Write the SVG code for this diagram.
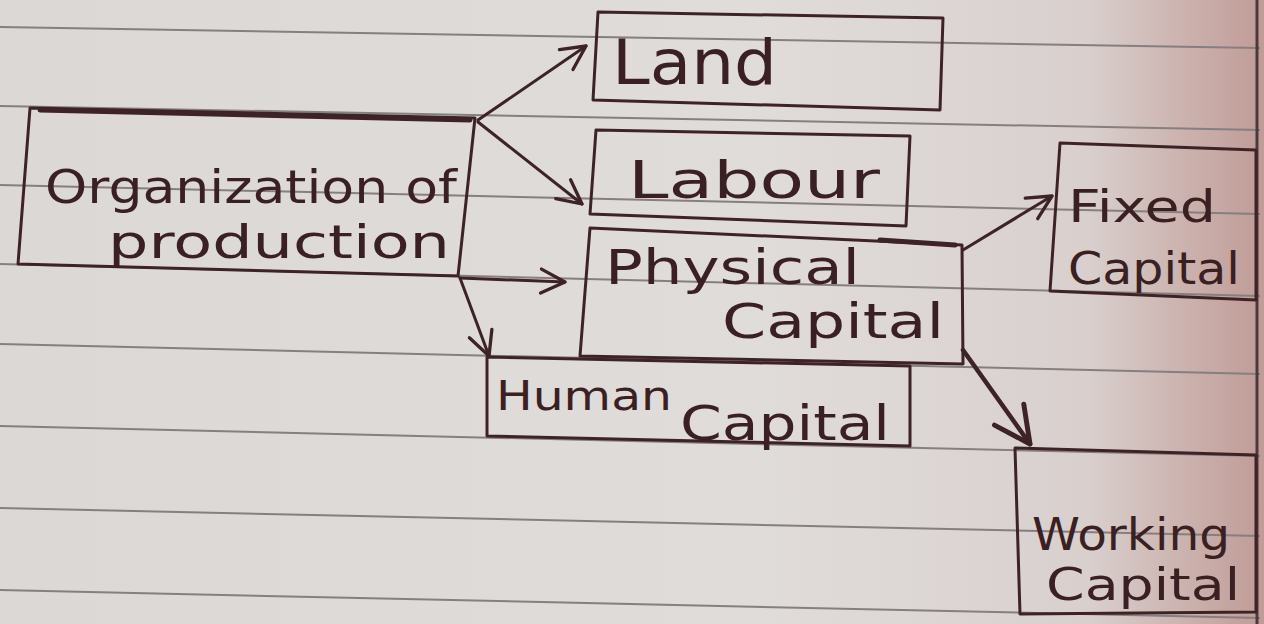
<svg xmlns="http://www.w3.org/2000/svg" width="1264" height="624" viewBox="0 0 1264 624">
<defs>
<linearGradient id="paper" x1="0" y1="0" x2="1" y2="0">
<stop offset="0" stop-color="#dcd8d6"/>
<stop offset="0.6" stop-color="#e0dcda"/>
<stop offset="0.86" stop-color="#d9d0ce"/>
<stop offset="0.94" stop-color="#cbb1ad"/>
<stop offset="1" stop-color="#c09b97"/>
</linearGradient>
<marker id="arr" viewBox="0 0 20 20" refX="18" refY="10" markerWidth="10" markerHeight="10" markerUnits="strokeWidth" orient="auto">
<path d="M2,2 L18,10 L2,18" fill="none" stroke="#3e2326" stroke-width="2.2" stroke-linecap="round" stroke-linejoin="round"/>
</marker>
<style>
.ink{fill:none;stroke:#3e2326;stroke-width:3;stroke-linejoin:round;stroke-linecap:round}
.thick{stroke-width:5}
.rule{fill:none;stroke:#867e7f;stroke-width:2}
.t{font-family:"DejaVu Sans","Liberation Sans",sans-serif;fill:#3a1f23}
.conn{fill:none;stroke:#3e2326;stroke-width:3;stroke-linecap:round;marker-end:url(#arr)}
</style>
</defs>
<rect width="1264" height="624" fill="url(#paper)"/>
<g id="rules">
<line class="rule" x1="0" y1="27" x2="1260" y2="48"/>
<line class="rule" x1="0" y1="106" x2="1260" y2="130"/>
<line class="rule" x1="0" y1="185" x2="1260" y2="214"/>
<line class="rule" x1="0" y1="264" x2="1260" y2="296"/>
<line class="rule" x1="0" y1="344" x2="1260" y2="374"/>
<line class="rule" x1="0" y1="426" x2="1260" y2="456"/>
<line class="rule" x1="0" y1="508" x2="1260" y2="536"/>
<line class="rule" x1="0" y1="590" x2="1260" y2="618"/>
<line x1="1257" y1="0" x2="1257" y2="624" stroke="#4a3a3b" stroke-width="3"/>
</g>
<g id="connectors">
<path class="conn" d="M478,120 L586,46"/>
<path class="conn" d="M478,122 L582,204"/>
<path class="conn" d="M460,278 L565,282"/>
<path class="conn" d="M460,278 L489,356"/>
<path class="conn" d="M963,250 L1052,196"/>
<path class="conn" style="stroke-width:4.5" d="M963,350 L1030,444"/>
</g>
<g id="org">
<path class="ink" d="M30,108 L475,118 L458,276 L18,264 Z"/>
<path class="ink thick" d="M40,110 L470,120"/>
<text class="t" x="45" y="203" font-size="46" textLength="412" lengthAdjust="spacingAndGlyphs">Organization of</text>
<text class="t" x="108" y="258" font-size="46" textLength="342" lengthAdjust="spacingAndGlyphs">production</text>
</g>
<g id="land">
<path class="ink" d="M598,12 L943,18 L940,110 L593,100 Z"/>
<text class="t" x="612" y="84" font-size="62" textLength="165" lengthAdjust="spacingAndGlyphs">Land</text>
</g>
<g id="labour">
<path class="ink" d="M596,130 L910,136 L906,226 L590,214 Z"/>
<text class="t" x="628" y="198" font-size="52" textLength="252" lengthAdjust="spacingAndGlyphs">Labour</text>
</g>
<g id="physical">
<path class="ink" d="M590,228 L962,245 L963,364 L580,356 Z"/>
<path class="ink thick" d="M880,240 L955,245"/>
<text class="t" x="605" y="284" font-size="48" textLength="255" lengthAdjust="spacingAndGlyphs">Physical</text>
<text class="t" x="722" y="338" font-size="48" textLength="222" lengthAdjust="spacingAndGlyphs">Capital</text>
</g>
<g id="human">
<path class="ink" d="M487,357 L910,366 L910,446 L487,436 Z"/>
<text class="t" x="496" y="410" font-size="40" textLength="176" lengthAdjust="spacingAndGlyphs">Human</text>
<text class="t" x="680" y="440" font-size="48" textLength="210" lengthAdjust="spacingAndGlyphs">Capital</text>
</g>
<g id="fixed">
<path class="ink" d="M1060,143 L1256,150 L1256,300 L1050,291 Z"/>
<text class="t" x="1068" y="222" font-size="44" textLength="148" lengthAdjust="spacingAndGlyphs">Fixed</text>
<text class="t" x="1068" y="284" font-size="44" textLength="172" lengthAdjust="spacingAndGlyphs">Capital</text>
</g>
<g id="working">
<path class="ink" d="M1015,448 L1256,455 L1256,612 L1020,614 Z"/>
<text class="t" x="1032" y="550" font-size="44" textLength="198" lengthAdjust="spacingAndGlyphs">Working</text>
<text class="t" x="1046" y="600" font-size="44" textLength="194" lengthAdjust="spacingAndGlyphs">Capital</text>
</g>
</svg>
